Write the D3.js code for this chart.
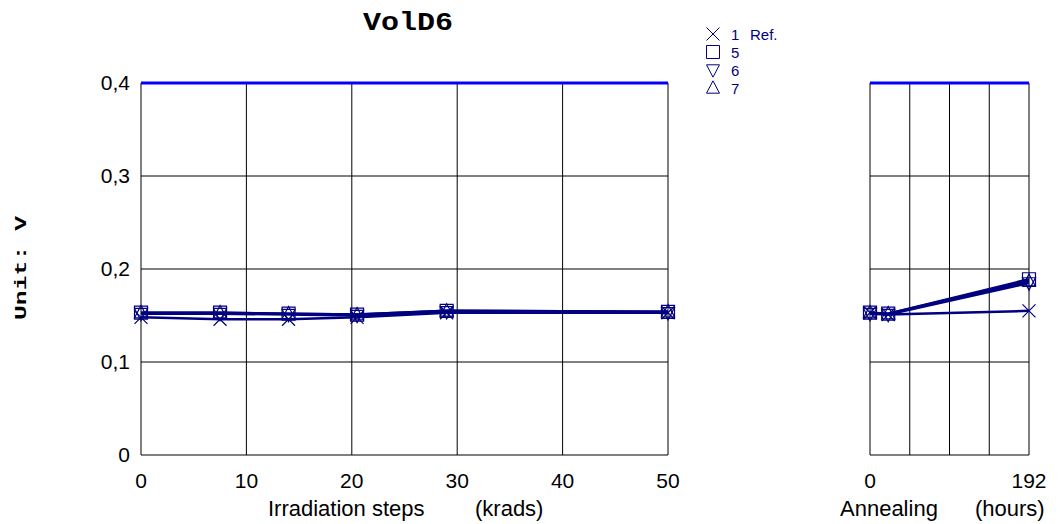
<!DOCTYPE html>
<html>
<head>
<meta charset="utf-8">
<script src="https://cdn.jsdelivr.net/npm/d3@7"></script>
<style>
  body { margin: 0; background: #fff; }
  text { font-family: Arial, "Liberation Sans", sans-serif; }
</style>
</head>
<body>
<div id="chart"></div>
<script>
// irradiation steps (krads) and annealing times (hours)
var irrSteps = [0, 7.5, 14, 20.5, 29, 50];
var annSteps = [0, 22, 192];

var seriesNames = ["1", "5", "6", "7"];
var seriesNotes = ["Ref.", "", "", ""];
var seriesSymbols = ["cross", "square", "down", "up"];

var irrValues = [
  [0.148, 0.146, 0.146, 0.148, 0.153, 0.153],
  [0.153, 0.153, 0.152, 0.151, 0.155, 0.154],
  [0.152, 0.152, 0.151, 0.150, 0.154, 0.153],
  [0.153, 0.153, 0.152, 0.151, 0.155, 0.154]
];
var annValues = [
  [0.153, 0.151, 0.155],
  [0.153, 0.152, 0.189],
  [0.152, 0.151, 0.185],
  [0.153, 0.152, 0.187]
];

var limitValue = 0.4;
var yTicks = [0, 0.1, 0.2, 0.3, 0.4];
var irrTicks = [0, 10, 20, 30, 40, 50];
var annTicks = [0, 48, 96, 144, 192];
var annTickLabels = { 0: "0", 192: "192" };

var width = 1062, height = 524;
var navy = "#000080";

var svg = d3.select("#chart").append("svg")
  .attr("width", width)
  .attr("height", height);

var y = d3.scaleLinear().domain([0, 0.4]).range([455, 83]);
var xIrr = d3.scaleLinear().domain([0, 50]).range([141, 668]);
var xAnn = d3.scaleLinear().domain([0, 192]).range([870, 1029]);

function symbolPath(type, s) {
  if (type == "cross") return "M" + (-s) + "," + (-s) + "L" + s + "," + s + "M" + (-s) + "," + s + "L" + s + "," + (-s);
  if (type == "square") return "M" + (-s) + "," + (-s) + "H" + s + "V" + s + "H" + (-s) + "Z";
  if (type == "down") return "M" + (-s) + "," + (-s*0.8) + "L" + s + "," + (-s*0.8) + "L0," + (s*1.1) + "Z";
  return "M" + (-s) + "," + (s*0.8) + "L" + s + "," + (s*0.8) + "L0," + (-s*1.1) + "Z";
}

function drawPanel(x, xTicks, steps, values, labelFn, titles) {
  var g = svg.append("g");
  var x0 = x.range()[0], x1 = x.range()[1];

  // grid
  g.selectAll(".vgrid").data(xTicks).enter().append("line")
    .attr("x1", d => x(d)).attr("x2", d => x(d))
    .attr("y1", y(0)).attr("y2", y(0.4))
    .attr("stroke", "#000").attr("stroke-width", 1);
  g.selectAll(".hgrid").data(yTicks.slice(0, 4)).enter().append("line")
    .attr("x1", x0).attr("x2", x1)
    .attr("y1", d => y(d)).attr("y2", d => y(d))
    .attr("stroke", "#000").attr("stroke-width", 1);

  // limit line
  g.append("line")
    .attr("x1", x0).attr("x2", x1)
    .attr("y1", y(limitValue)).attr("y2", y(limitValue))
    .attr("stroke", "#0000ff").attr("stroke-width", 3);

  // x tick labels
  g.selectAll(".xl").data(xTicks).enter().append("text")
    .attr("x", d => x(d)).attr("y", 488)
    .attr("text-anchor", "middle")
    .style("font-size", "21px")
    .text(labelFn);

  titles.forEach(function (t) {
    g.append("text")
      .attr("x", t[1]).attr("y", 516)
      .style("font-size", "22px")
      .text(t[0]);
  });

  var line = d3.line()
    .x((d, i) => x(steps[i]))
    .y(d => y(d));

  values.forEach(function (vals, k) {
    g.append("path")
      .attr("d", line(vals))
      .attr("fill", "none")
      .attr("stroke", navy)
      .attr("stroke-width", 2.5);
  });
  values.forEach(function (vals, k) {
    g.selectAll(".m" + k).data(vals).enter().append("path")
      .attr("transform", (d, i) => "translate(" + x(steps[i]) + "," + y(d) + ")")
      .attr("d", symbolPath(seriesSymbols[k], 6.5))
      .attr("fill", "none")
      .attr("stroke", navy)
      .attr("stroke-width", 1.2);
  });
}

drawPanel(xIrr, irrTicks, irrSteps, irrValues, d => d,
  [["Irradiation steps", 268], ["(krads)", 475]]);
drawPanel(xAnn, annTicks, annSteps, annValues, d => annTickLabels[d] || "",
  [["Annealing", 840], ["(hours)", 975]]);

// y tick labels
svg.selectAll(".yl").data(yTicks).enter().append("text")
  .attr("x", 130).attr("y", d => y(d) + 7)
  .attr("text-anchor", "end")
  .style("font-size", "21px")
  .text(d => d == 0 ? "0" : String(d).replace(".", ","));

// title
svg.append("text")
  .attr("x", 363).attr("y", 30)
  .attr("textLength", 90).attr("lengthAdjust", "spacingAndGlyphs")
  .style("font-family", "'Liberation Mono', 'Courier New', monospace")
  .style("font-weight", "bold")
  .style("font-size", "25px")
  .text("VolD6");

svg.append("text")
  .attr("transform", "translate(26,320) rotate(-90)")
  .attr("textLength", 104).attr("lengthAdjust", "spacingAndGlyphs")
  .style("font-family", "'Liberation Mono', 'Courier New', monospace")
  .style("font-weight", "bold")
  .style("font-size", "17px")
  .text("Unit: V");

// legend
var legend = svg.append("g");
seriesNames.forEach(function (name, k) {
  var ly = 34 + k * 18;
  legend.append("path")
    .attr("transform", "translate(713," + ly + ")")
    .attr("d", symbolPath(seriesSymbols[k], 6.5))
    .attr("fill", "none")
    .attr("stroke", navy)
    .attr("stroke-width", 1);
  legend.append("text")
    .attr("x", 731).attr("y", ly + 5.5)
    .attr("fill", navy)
    .style("font-size", "15px")
    .text(name);
  legend.append("text")
    .attr("x", 750).attr("y", ly + 5.5)
    .attr("fill", navy)
    .style("font-size", "15px")
    .text(seriesNotes[k]);
});
</script>
</body>
</html>
